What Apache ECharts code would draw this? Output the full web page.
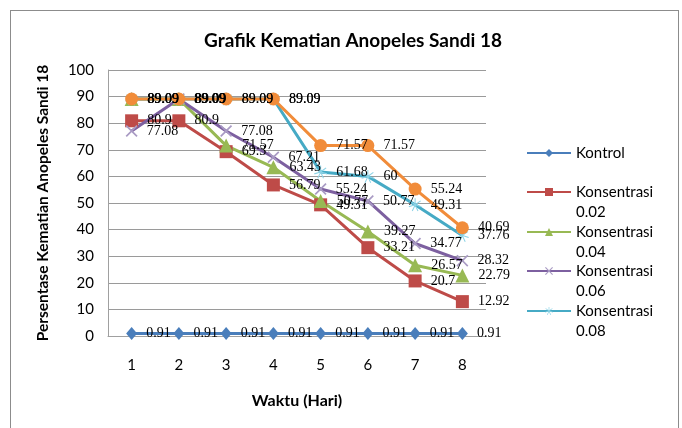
<!DOCTYPE html>
<html><head><meta charset="utf-8">
<script src="https://cdn.jsdelivr.net/npm/echarts@6/dist/echarts.min.js"></script>
<style>
html,body{margin:0;padding:0;background:#fff;}
#frame{position:absolute;left:10px;top:10px;width:669px;height:430px;border:1px solid #8c8c8c;box-sizing:border-box;}
#c{position:absolute;left:0;top:0;width:682px;height:428px;}
</style></head><body>
<div id="frame"></div>
<div id="c"></div>
<script>
const days = ['1','2','3','4','5','6','7','8'];
const kontrol = [0.91,0.91,0.91,0.91,0.91,0.91,0.91,0.91];
const k002 = [80.9,80.9,69.3,56.79,49.31,33.21,20.7,12.92];
const k004 = [89.09,89.09,71.57,63.43,50.77,39.27,26.57,22.79];
const k006 = [77.08,89.09,77.08,67.21,55.24,50.77,34.77,28.32];
const k008 = [89.09,89.09,89.09,89.09,61.68,60,49.31,37.76];
const k010 = [89.09,89.09,89.09,89.09,71.57,71.57,55.24,40.69];
const yTicks = [0,10,20,30,40,50,60,70,80,90,100];

const chart = echarts.init(document.getElementById('c'), null, {renderer:'canvas'});
const lbl = {show:true, position:'right', distance:9, color:'#000', fontFamily:'Liberation Serif', fontSize:14};
const legendFont = {fontFamily:'Lato', fontSize:15, color:'#000', lineHeight:20};
function mk(name, data, color, symbol, size, itemStyle){
  return {name, type:'line', data, symbol, symbolSize:size,
    lineStyle:{color, width:3}, itemStyle: itemStyle || {color},
    label:lbl, emphasis:{disabled:true}, z:2};
}
const xPath = 'path://M0,1L1,0L5,4L9,0L10,1L6,5L10,9L9,10L5,6L1,10L0,9L4,5Z';
const starPath = 'path://M4.6,0L5.4,0L5.4,4.1L8.9,1.6L9.4,2.2L5.9,4.8L9.9,6.1L9.6,6.9L5.6,5.6L7.5,9.6L6.8,10L5,6.1L3.2,10L2.5,9.6L4.4,5.6L0.4,6.9L0.1,6.1L4.1,4.8L0.6,2.2L1.1,1.6L4.6,4.1Z';
const legends = [];
const legendNames = ['Kontrol','Konsentrasi 0.02','Konsentrasi 0.04','Konsentrasi 0.06','Konsentrasi 0.08'];
const legendTops = [143,162,202,241,281];
legendNames.forEach((n,i)=>{
  legends.push({data:[n], left:526, top:legendTops[i], itemWidth:44, itemHeight:10, itemGap:0,
    padding:0, selectedMode:false,
    formatter: nm => nm.indexOf('Konsentrasi ')===0 ? ' \n' + nm.replace('Konsentrasi ','Konsentrasi\n') : nm,
    textStyle: legendFont});
});
chart.setOption({
  animation:false,
  title:{text:'Grafik Kematian Anopeles Sandi 18', left:348, textAlign:'center', top:26,
    textStyle:{fontFamily:'Lato', fontWeight:'bold', fontSize:19, color:'#000'}},
  legend: legends,
  grid:{left:108, right:196, top:70, bottom:92},
  xAxis:{type:'category', data:days, boundaryGap:true,
    name:'Waktu (Hari)', nameLocation:'middle', nameGap:57,
    nameTextStyle:{fontFamily:'Lato', fontWeight:'bold', fontSize:16, color:'#000'},
    axisLine:{lineStyle:{color:'#a0a0a0', width:1}}, axisTick:{show:false},
    axisLabel:{fontFamily:'Lato', fontSize:15, color:'#000', margin:22}},
  yAxis:{type:'value', min:0, max:100, interval:10,
    name:'Persentase Kematian Anopeles Sandi 18', nameLocation:'middle', nameGap:57,
    nameTextStyle:{fontFamily:'Lato', fontWeight:'bold', fontSize:15.5, color:'#000'},
    axisLine:{show:true, lineStyle:{color:'#a0a0a0', width:1}}, axisTick:{show:false},
    axisLabel:{fontFamily:'Lato', fontSize:15, color:'#000', margin:14,
      formatter: v => yTicks.includes(v) ? String(v) : ''},
    splitLine:{lineStyle:{color:'#9a9a9a', width:1}}},
  series:[
    mk('Kontrol', kontrol, '#4a7ebb', 'diamond', [11,13]),
    mk('Konsentrasi 0.02', k002, '#be4b48', 'rect', 13),
    mk('Konsentrasi 0.04', k004, '#98b954', 'triangle', 14),
    mk('Konsentrasi 0.06', k006, '#7d60a0', xPath, 12, {color:'#a99bc4'}),
    mk('Konsentrasi 0.08', k008, '#46aac5', starPath, 13, {color:'#8dd3e6'}),
    mk('Konsentrasi 0.10', k010, '#f18c3a', 'circle', 13)
  ]
});
</script>
</body></html>
